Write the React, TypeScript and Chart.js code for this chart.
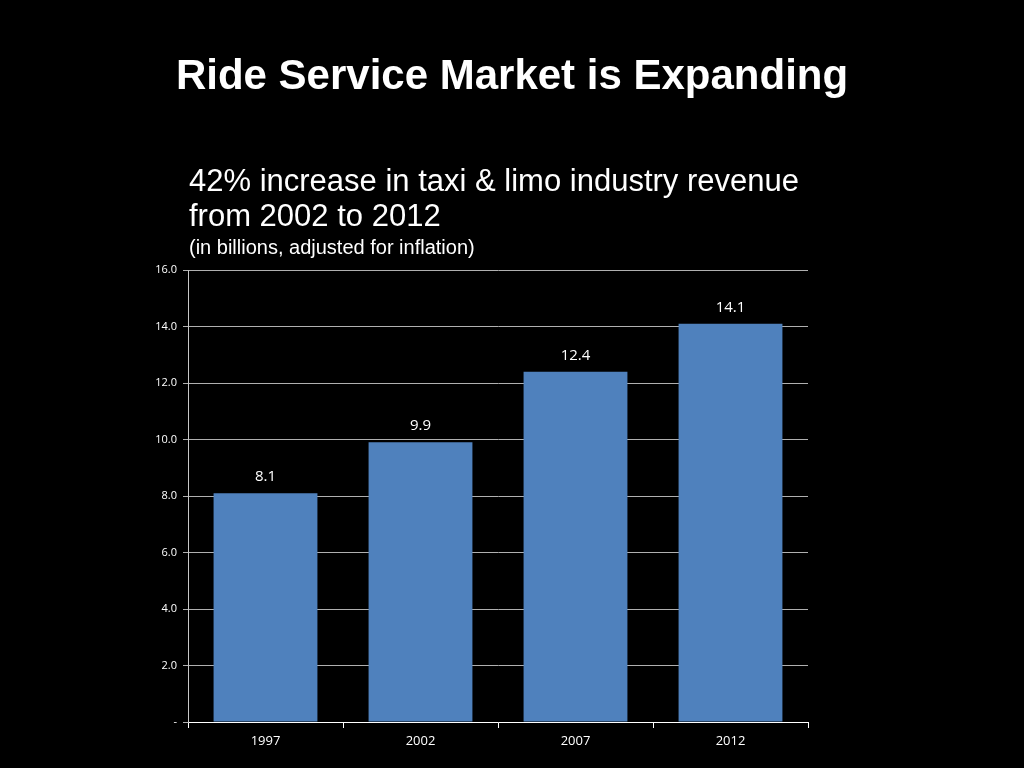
import React, { useEffect, useRef } from "react";
import { Chart, registerables } from "chart.js";

Chart.register(...registerables);

const categories = ["1997", "2002", "2007", "2012"];
const revenue = [8.1, 9.9, 12.4, 14.1];
const titleText = "Ride Service Market is Expanding";
const subtitleLines = ["42% increase in taxi & limo industry revenue", "from 2002 to 2012"];
const noteText = "(in billions, adjusted for inflation)";

const textPlugin = {
  id: "textPlugin",
  afterDraw(chart: any) {
    const ctx = chart.ctx;
    ctx.save();
    ctx.fillStyle = "#ffffff";
    ctx.textBaseline = "alphabetic";
    ctx.textAlign = "center";
    ctx.font = "bold 42px 'Liberation Sans', Arial, sans-serif";
    ctx.fillText(titleText, 512, 89);
    ctx.textAlign = "left";
    ctx.font = "31px 'Liberation Sans', Arial, sans-serif";
    ctx.fillText(subtitleLines[0], 189, 191);
    ctx.fillText(subtitleLines[1], 189, 226);
    ctx.font = "20px 'Liberation Sans', Arial, sans-serif";
    ctx.fillText(noteText, 189, 254);

    // value labels
    const meta = chart.getDatasetMeta(0);
    ctx.textAlign = "center";
    ctx.font = "15px 'Open Sans', sans-serif";
    meta.data.forEach((bar: any, i: number) => {
      ctx.fillText(String(revenue[i]), bar.x, bar.y - 12);
    });
    ctx.restore();
  },
};

export default function App() {
  const ref = useRef<HTMLCanvasElement>(null);
  useEffect(() => {
    document.body.style.margin = "0";
    document.body.style.background = "#000";
    const chart = new Chart(ref.current!, {
      type: "bar",
      data: {
        labels: categories,
        datasets: [
          {
            data: revenue,
            backgroundColor: "#4f81bd",
            borderWidth: 0,
            categoryPercentage: 1,
            barPercentage: 0.67,
          },
        ],
      },
      options: {
        animation: false,
        responsive: false,
        layout: { padding: { left: 148, right: 216, top: 270, bottom: 16 } },
        plugins: { legend: { display: false }, tooltip: { enabled: false }, title: { display: false } },
        scales: {
          x: {
            grid: { display: true, drawOnChartArea: false, drawTicks: true, tickLength: 6, color: "#ffffff", offset: true },
            border: { color: "#ffffff", width: 1 },
            ticks: { color: "#ffffff", font: { family: "'Open Sans', sans-serif", size: 13 }, padding: 5 },
            afterFit(scale: any) {
              scale.height = 30;
            },
          },
          y: {
            min: 0,
            max: 16,
            ticks: {
              stepSize: 2,
              color: "#ffffff",
              font: { family: "'Open Sans', sans-serif", size: 11 },
              padding: 6,
              callback: (v: any) => (Number(v) === 0 ? "-" : Number(v).toFixed(1)),
            },
            grid: { color: "#b0b0b0", tickLength: 5, drawTicks: true },
            border: { color: "#c8c8c8", width: 1 },
            afterFit(scale: any) {
              scale.width = 40;
            },
          },
        },
      },
      plugins: [textPlugin],
    });
    return () => chart.destroy();
  }, []);
  return (
    <div style={{ position: "fixed", left: 0, top: 0, width: 1024, height: 768, background: "#000" }}>
      <canvas ref={ref} width={1024} height={768} style={{ display: "block" }} />
    </div>
  );
}
